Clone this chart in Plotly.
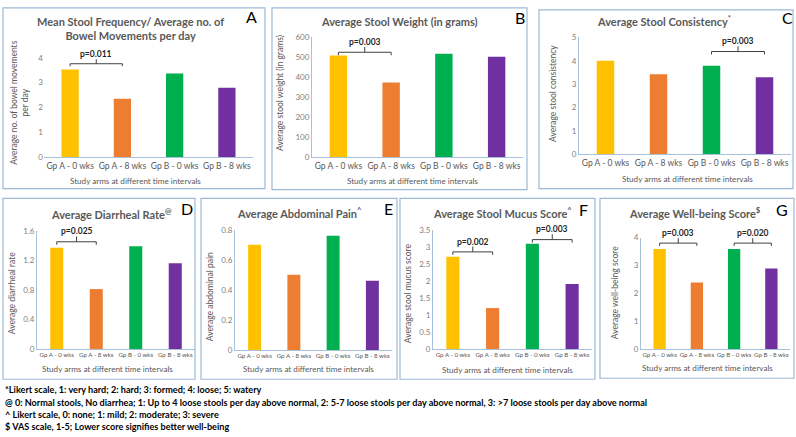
import plotly.graph_objects as go

categories = ["Gp A - 0 wks", "Gp A - 8 wks", "Gp B - 0 wks", "Gp B - 8 wks"]
bar_colors = ["#FFC000", "#ED7D31", "#00B050", "#7030A0"]

stool_frequency = [3.53, 2.35, 3.37, 2.80]
stool_weight = [509, 374, 517, 502]
stool_consistency = [4.00, 3.42, 3.78, 3.29]
diarrheal_rate = [1.37, 0.81, 1.39, 1.16]
abdominal_pain = [0.70, 0.50, 0.76, 0.46]
mucus_score = [2.71, 1.20, 3.09, 1.91]
wellbeing_score = [3.59, 2.39, 3.59, 2.89]

panel_values = [stool_frequency, stool_weight, stool_consistency, diarrheal_rate,
                abdominal_pain, mucus_score, wellbeing_score]
panel_titles = [
    "Mean Stool Frequency/ Average no. of<br>Bowel Movements per day",
    "Average Stool Weight (in grams)",
    "Average Stool Consistency<sup>*</sup>",
    "Average Diarrheal Rate<sup>@</sup>",
    "Average Abdominal Pain<sup>^</sup>",
    "Average Stool Mucus Score<sup>^</sup>",
    "Average Well-being Score<sup>$</sup>",
]
y_titles = [
    "Average no. of bowel movements<br>per day",
    "Average stool weight (in grams)",
    "Average stool consistency",
    "Average diarrheal rate",
    "Average abdominal pain",
    "Average stool mucus score",
    "Average well-being score",
]
x_title = "Study arms at different time intervals"
panel_letters = ["A", "B", "C", "D", "E", "F", "G"]
y_max = [4, 600, 5, 1.6, 0.8, 3.5, 4]
y_step = [1, 100, 1, 0.4, 0.2, 0.5, 1]

# significance brackets: panel, first bar, second bar, bracket level, label
brackets = [
    (0, 0, 1, 3.76, "p=0.011"),
    (1, 0, 1, 525, "p=0.003"),
    (2, 2, 3, 4.39, "p=0.003"),
    (3, 0, 1, 1.45, "p=0.025"),
    (5, 0, 1, 2.85, "p=0.002"),
    (5, 2, 3, 3.21, "p=0.003"),
    (6, 0, 1, 3.80, "p=0.003"),
    (6, 2, 3, 3.80, "p=0.020"),
]

footnotes = [
    "*Likert scale, 1: very hard; 2: hard; 3: formed; 4: loose; 5: watery",
    "@ 0: Normal stools, No diarrhea; 1: Up to 4 loose stools per day above normal, "
    "2: 5-7 loose stools per day above normal, 3: >7 loose stools per day above normal",
    "^ Likert scale, 0: none; 1: mild; 2: moderate; 3: severe",
    "$ VAS scale, 1-5; Lower score signifies better well-being",
]

W, H = 796, 437
FONT = "Lato"
GREY = "#595959"
BORDER = "#9DB9D6"


def fx(px):
    return px / W


def fy(py):
    return 1 - py / H


# pixel layout of each panel: box, plot area, title, letter, y title, x title
layout_px = [
    dict(box=(3, 3, 265, 188), plot=(44, 54, 253, 156), title=(130, 24), letter=(251, 12),
         ytitle=(20, 100), xtitle=(135, 180), big=True),
    dict(box=(272, 3, 527, 189), plot=(312, 33, 523, 156), title=(399, 17), letter=(520, 13),
         ytitle=(280, 90), xtitle=(412, 180), big=True),
    dict(box=(539, 5, 793, 188), plot=(579, 33, 791, 153), title=(664, 16), letter=(787, 13),
         ytitle=(553, 91), xtitle=(687, 178), big=True),
    dict(box=(3, 198, 195, 383), plot=(37, 231, 195, 352), title=(111, 213), letter=(187, 208),
         ytitle=(12, 295), xtitle=(107, 373), big=False),
    dict(box=(201, 198, 397, 383), plot=(235, 230, 392, 353), title=(299, 212), letter=(388, 208),
         ytitle=(210, 298), xtitle=(308, 373), big=False),
    dict(box=(400, 198, 595, 383), plot=(433, 230, 592, 352), title=(502, 212), letter=(583, 209),
         ytitle=(408, 295), xtitle=(507, 374), big=False),
    dict(box=(600, 198, 794, 382), plot=(641, 238, 790, 352), title=(695, 212), letter=(782, 209),
         ytitle=(615, 294), xtitle=(707, 371), big=False),
]


def paper_text(text, px, py, size, color, **kw):
    return dict(text=text, x=fx(px), y=fy(py), xref="paper", yref="paper", showarrow=False,
                xanchor=kw.pop("xanchor", "center"), yanchor="middle",
                font=dict(family=FONT, size=size, color=color), **kw)


fig = go.Figure()
shapes = []
annotations = []

for i, (vals, lp) in enumerate(zip(panel_values, layout_px)):
    n = "" if i == 0 else str(i + 1)
    fig.add_trace(go.Bar(
        x=categories, y=vals, marker=dict(color=bar_colors, line=dict(width=0)),
        xaxis="x" + n, yaxis="y" + n, showlegend=False,
    ))
    x0, y0, x1, y1 = lp["plot"]
    tick_size = 8.5 if lp["big"] else 6.2
    fig.update_layout(**{
        "xaxis" + n: dict(
            domain=[fx(x0), fx(x1)], anchor="y" + n, showgrid=False, zeroline=False,
            showline=True, linecolor="#A9C0DA", linewidth=1, ticks="", tickangle=0,
            tickfont=dict(family=FONT, size=tick_size, color=GREY),
        ),
        "yaxis" + n: dict(
            domain=[fy(y1), fy(y0)], anchor="x" + n, range=[0, y_max[i]], dtick=y_step[i],
            showgrid=False, zeroline=False, showline=(i != 0), linecolor="#A9C0DA", linewidth=1,
            ticks="", tickfont=dict(family=FONT, size=8, color="#7F7F7F"),
        ),
    })

    bx0, by0, bx1, by1 = lp["box"]
    shapes.append(dict(type="rect", xref="paper", yref="paper", x0=fx(bx0), x1=fx(bx1),
                       y0=fy(by1), y1=fy(by0), line=dict(color=BORDER, width=1.2)))

    annotations.append(paper_text("<b>" + panel_titles[i] + "</b>", *lp["title"], 11, GREY))
    annotations.append(paper_text(panel_letters[i], *lp["letter"], 16, "#000000"))
    annotations.append(paper_text(y_titles[i], *lp["ytitle"], 8.5, GREY, textangle=-90))
    annotations.append(paper_text(x_title, *lp["xtitle"], 8.1, GREY))

for panel, a, b, level, label in brackets:
    n = "" if panel == 0 else str(panel + 1)
    drop = 0.025 * y_max[panel]
    rise = 0.045 * y_max[panel]
    line = dict(color="#404040", width=1)
    common = dict(type="line", xref="x" + n, yref="y" + n, line=line)
    shapes.append(dict(common, x0=a, x1=b, y0=level, y1=level))
    shapes.append(dict(common, x0=a, x1=a, y0=level - drop, y1=level))
    shapes.append(dict(common, x0=b, x1=b, y0=level - drop, y1=level))
    shapes.append(dict(common, x0=(a + b) / 2, x1=(a + b) / 2, y0=level, y1=level + rise))
    annotations.append(dict(text="<b>" + label + "</b>", x=(a + b) / 2, y=level + rise,
                            xref="x" + n, yref="y" + n, showarrow=False, yanchor="bottom",
                            yshift=-2, font=dict(family=FONT, size=8.5, color="#262626")))

for k, note in enumerate(footnotes):
    annotations.append(paper_text("<b>" + note + "</b>", 3, 394 + k * 12.3, 9.1, "#000000",
                                  xanchor="left"))

fig.update_layout(
    width=W, height=H, margin=dict(l=0, r=0, t=0, b=0),
    paper_bgcolor="white", plot_bgcolor="white",
    bargap=0.67, shapes=shapes, annotations=annotations,
)

fig.write_html("out.html", config={"displayModeBar": False},
               post_script="document.body.style.margin = '0';")
